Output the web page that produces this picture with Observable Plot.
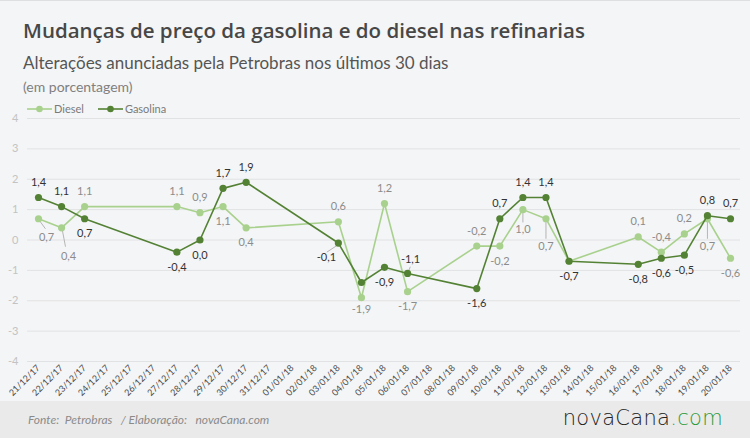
<!DOCTYPE html>
<html><head><meta charset="utf-8">
<script src="https://cdn.jsdelivr.net/npm/d3@7"></script>
<script src="https://cdn.jsdelivr.net/npm/@observablehq/plot@0.6"></script>
<style>
html,body{margin:0;padding:0;}
body{background:#f4f5f6;width:750px;height:438px;overflow:hidden;font-family:Lato,"Open Sans",sans-serif;}
#wrap{position:relative;width:750px;height:438px;border-top:1px solid #dedfe0;box-sizing:border-box;}
#title{position:absolute;left:23px;top:15px;font-family:"Open Sans",sans-serif;font-weight:600;font-size:20.5px;color:#474747;white-space:nowrap;}
#sub{position:absolute;left:23px;top:51px;font-family:Lato,sans-serif;font-size:17px;color:#555;white-space:nowrap;}
#unit{position:absolute;left:23px;top:77px;font-family:Lato,sans-serif;font-size:14px;color:#808080;white-space:nowrap;}
#legend{position:absolute;left:27px;top:101px;font-size:11px;color:#7a7a7a;display:flex;align-items:center;z-index:2;}
#legend span{display:inline-flex;align-items:center;margin-right:14px;}
#legend svg{margin-right:2px;}
#chart{position:absolute;left:0;top:100px;}
#footer{position:absolute;left:0;top:400px;width:750px;height:38px;background:#eaeaea;}
#src{position:absolute;left:28px;top:11px;font-style:italic;font-size:12px;color:#8a8a8a;white-space:pre;}
#logo{position:absolute;right:27px;top:5px;font-family:"DejaVu Sans",sans-serif;font-weight:200;font-size:21px;color:#222;letter-spacing:0.3px;}
#logo b{font-weight:200;color:#2a9a38;}
</style></head>
<body><div id="wrap">
<div id="title">Mudanças de preço da gasolina e do diesel nas refinarias</div>
<div id="sub">Alterações anunciadas pela Petrobras nos últimos 30 dias</div>
<div id="unit">(em porcentagem)</div>
<div id="legend"></div>
<div id="chart"></div>
<div id="footer"><div id="src">Fonte:  Petrobras   / Elaboração:   novaCana.com</div><div id="logo">novaCana<b>.com</b></div></div>
</div>
<script>
// ---- data ----
const dateLabels = ["21/12/17","22/12/17","23/12/17","24/12/17","25/12/17","26/12/17","27/12/17","28/12/17","29/12/17","30/12/17","31/12/17","01/01/18","02/01/18","03/01/18","04/01/18","05/01/18","06/01/18","07/01/18","08/01/18","09/01/18","10/01/18","11/01/18","12/01/18","13/01/18","14/01/18","15/01/18","16/01/18","17/01/18","18/01/18","19/01/18","20/01/18"];
const obsDates = ["21/12/17","22/12/17","23/12/17","27/12/17","28/12/17","29/12/17","30/12/17","03/01/18","04/01/18","05/01/18","06/01/18","09/01/18","10/01/18","11/01/18","12/01/18","13/01/18","16/01/18","17/01/18","18/01/18","19/01/18","20/01/18"];
const diesel   = [0.7,0.4,1.1,1.1,0.9,1.1,0.4,0.6,-1.9,1.2,-1.7,-0.2,-0.2,1.0,0.7,-0.7,0.1,-0.4,0.2,0.7,-0.6];
const gasolina = [1.4,1.1,0.7,-0.4,0.0,1.7,1.9,-0.1,-1.4,-0.9,-1.1,-1.6,0.7,1.4,1.4,-0.7,-0.8,-0.6,-0.5,0.8,0.7];
const yTicks = [-4,-3,-2,-1,0,1,2,3,4];
const seriesNames = ["Diesel","Gasolina"];

// ---- styling / layout (not data) ----
const colors = {Diesel:"#a9d18e", Gasolina:"#548235"};
const labelColors = {Diesel:"#8c8c8c", Gasolina:"#333333"};
const gasPos = ["a","a","b","b","b","a","a","gl","-","b","gr","b","a","a","a","b","b","b","b","a","a"];
const diePos = ["dr1","dr2","a","a","a","b","b","a","b2","a","b","a","b","l1","l2","-","a","a","a","l2","b"];
const offsets = {a:[0,-15], b:[0,15], b2:[0,12], gl:[-12,14], gr:[3,-14], dr1:[8,19], dr2:[7,29], l1:[0,20], l2:[0,28]};
// leader lines: [dx0,dy0,dx1,dy1] in data units relative to point
const leaders = {dr1:[0.07,-0.09,0.3,-0.33], dr2:[0.04,-0.1,0.17,-0.62], gl:[-0.08,-0.09,-0.5,-0.3], gr:[0.05,0.09,0.12,0.22], l1:[0,-0.1,0,-0.42], l2:[0,-0.1,0,-0.66]};

const fmt = v => (v < 0 ? "-" : "") + Math.abs(v).toFixed(1).replace(".", ",");
const idx = d => dateLabels.indexOf(d);

const rows = [];
obsDates.forEach((d,i) => {
  rows.push({series:"Diesel", x: idx(d), value: diesel[i], pos: diePos[i]});
});
obsDates.forEach((d,i) => {
  rows.push({series:"Gasolina", x: idx(d), value: gasolina[i], pos: gasPos[i]});
});

const leaderRows = rows.filter(r => leaders[r.pos]).map(r => {
  const L = leaders[r.pos];
  return {x1: r.x + L[0], y1: r.value + L[1], x2: r.x + L[2], y2: r.value + L[3]};
});

const textMarks = [];
for (const s of seriesNames) {
  for (const k of Object.keys(offsets)) {
    const sub = rows.filter(r => r.series === s && r.pos === k);
    if (!sub.length) continue;
    textMarks.push(Plot.text(sub, {x:"x", y:"value", text: r => fmt(r.value), dx: offsets[k][0], dy: offsets[k][1],
      fill: labelColors[s], fontSize: 11, fontFamily: "Lato, sans-serif"}));
  }
}

const chart = Plot.plot({
  width: 750, height: 300,
  marginTop: 17, marginBottom: 40, marginLeft: 27, marginRight: 10,
  style: {background: "transparent", fontFamily: "Lato, sans-serif"},
  x: {domain: [0, dateLabels.length - 1], insetLeft: 11, insetRight: 10},
  y: {domain: [-4, 4]},
  marks: [
    Plot.ruleY(yTicks, {stroke: "#e1e2e4", strokeWidth: 1}),
    Plot.axisY({ticks: yTicks, tickSize: 0, tickPadding: 9, tickFormat: d => String(d), fill: "#c3c3c3", fontSize: 11, label: null}),
    Plot.axisX({ticks: dateLabels.map((d,i) => i), tickFormat: i => dateLabels[i], tickRotate: -45, tickSize: 0, tickPadding: 5, fontSize: 9, fill: "#4a4a4a", label: null}),
    Plot.link(leaderRows, {x1:"x1", y1:"y1", x2:"x2", y2:"y2", stroke: "#b5b5b5", strokeWidth: 1}),
    Plot.line(rows.filter(r => r.series === "Diesel"), {x:"x", y:"value", stroke: colors.Diesel, strokeWidth: 1.6}),
    Plot.dot(rows.filter(r => r.series === "Diesel"), {x:"x", y:"value", fill: colors.Diesel, r: 3.6}),
    Plot.line(rows.filter(r => r.series === "Gasolina"), {x:"x", y:"value", stroke: colors.Gasolina, strokeWidth: 1.6}),
    Plot.dot(rows.filter(r => r.series === "Gasolina"), {x:"x", y:"value", fill: colors.Gasolina, r: 3.6}),
    ...textMarks
  ]
});
document.getElementById("chart").appendChild(chart);

// legend
const lg = document.getElementById("legend");
for (const s of seriesNames) {
  const sp = document.createElement("span");
  sp.innerHTML = `<svg width="25" height="10"><line x1="0" y1="5" x2="25" y2="5" stroke="${colors[s]}" stroke-width="1.6"/><circle cx="12.5" cy="5" r="3.3" fill="${colors[s]}"/></svg>${s}`;
  lg.appendChild(sp);
}
</script>
</body></html>
